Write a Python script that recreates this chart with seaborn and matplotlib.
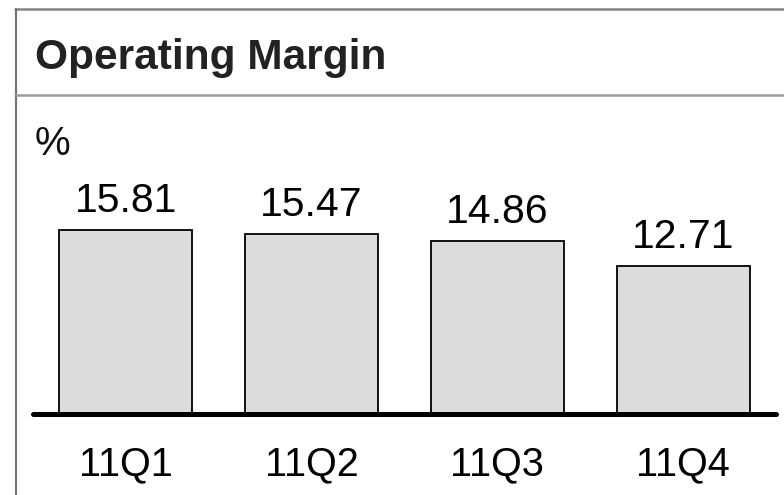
import matplotlib
matplotlib.use("Agg")
import matplotlib.pyplot as plt
from matplotlib.lines import Line2D
import seaborn as sns
import pandas as pd

quarters = ["11Q1", "11Q2", "11Q3", "11Q4"]
margin_pct = [15.81, 15.47, 14.86, 12.71]
value_labels = ["15.81", "15.47", "14.86", "12.71"]
title = "Operating Margin"
unit = "%"

sns.set_theme(style="white")
plt.rcParams["font.family"] = ["Liberation Sans", "DejaVu Sans"]

W, H = 784, 495
fig = plt.figure(figsize=(W / 100, H / 100), dpi=100)
fig.patch.set_facecolor("white")

def fx(px):
    return px / W

def fy(py):
    return 1 - py / H

# panel frame: top rule, left rule and title separator
fig.add_artist(Line2D([fx(15), 1], [fy(9), fy(9)], transform=fig.transFigure,
                      color="#858585", lw=1.8))
fig.add_artist(Line2D([fx(15.5), fx(15.5)], [fy(9), 0], transform=fig.transFigure,
                      color="#77716c", lw=1.5))
fig.add_artist(Line2D([fx(15), 1], [fy(94.5), fy(94.5)], transform=fig.transFigure,
                      color="#9c9c9c", lw=1.8))

fig.text(fx(35), fy(69), title, fontsize=30.5, fontweight="bold", color="#222222",
         va="baseline", ha="left")
fig.text(fx(35), fy(155), unit, fontsize=29, color="#111111", va="baseline", ha="left")

# bar area: y=0 sits on the heavy baseline
y0 = 413.5
px_per_unit = (y0 - 230) / margin_pct[0]
top_px = 100
ax = fig.add_axes([fx(33), fy(y0), fx(776) - fx(33), (y0 - top_px) / H])
ax.set_facecolor("none")

df = pd.DataFrame({"quarter": quarters, "margin": margin_pct})
sns.barplot(data=df, x="quarter", y="margin", color="#dcdcdc", saturation=1,
            edgecolor="black", linewidth=1.3, width=0.715, ax=ax)

ax.set_xlim(-0.5, 3.5)
ax.set_ylim(0, (y0 - top_px) / px_per_unit)
ax.axhline(0, color="black", lw=3.6, clip_on=False, zorder=5)

for i, (v, lab) in enumerate(zip(margin_pct, value_labels)):
    ax.annotate(lab, xy=(i, v), xytext=(0, 13), textcoords="offset points",
                ha="center", va="baseline", fontsize=29.5, color="black")

ax.set_xticks([])
ax.set_yticks([])
ax.set_xlabel("")
ax.set_ylabel("")
for s in ax.spines.values():
    s.set_visible(False)

trans = matplotlib.transforms.blended_transform_factory(ax.transData, fig.transFigure)
for i, q in enumerate(quarters):
    ax.text(i, fy(475), q, transform=trans, ha="center", va="baseline",
            fontsize=28.5, color="black")

fig.savefig("out.png", dpi=100, facecolor="white")
